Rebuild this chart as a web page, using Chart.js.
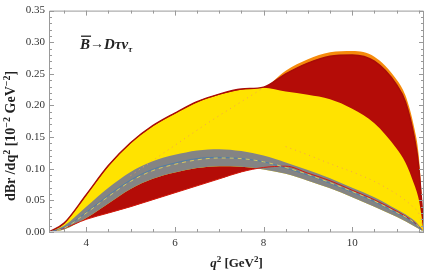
<!DOCTYPE html>
<html lang="en">
<head>
    <meta charset="UTF-8">
    <title>dBr/dq2 B -> D tau nu</title>
    <script src="https://cdnjs.cloudflare.com/ajax/libs/Chart.js/4.4.1/chart.umd.min.js"></script>
    <style>
        html, body { margin: 0; padding: 0; background: #fff; }
        #wrap { width: 425px; height: 272px; }
    </style>
</head>
<body>
<div id="wrap"><canvas id="dbr-chart" width="425" height="272"></canvas></div>

<script>
    // q^2 grid (GeV^2)
    const q2 = [3.16, 3.5, 4, 4.5, 5, 5.5, 6, 6.5, 7, 7.5, 8, 8.5, 9, 9.5, 10, 10.5, 11, 11.2, 11.4, 11.5, 11.62];

    // bands (10^-2 GeV^-2)
    const redLo    = [0, 0.006, 0.02, 0.03, 0.04, 0.051, 0.062, 0.073, 0.084, 0.095, 0.102, 0.104, 0.093, 0.081, 0.066, 0.051, 0.033, 0.025, 0.015, 0.009, 0];
    const redHi    = [0, 0.014, 0.059, 0.105, 0.141, 0.168, 0.188, 0.206, 0.218, 0.226, 0.229, 0.25, 0.267, 0.278, 0.28, 0.27, 0.233, 0.206, 0.15, 0.104, 0];
    const orangeHi = [0, 0.014, 0.059, 0.105, 0.141, 0.168, 0.188, 0.206, 0.218, 0.226, 0.229, 0.255, 0.273, 0.284, 0.286, 0.277, 0.241, 0.216, 0.165, 0.122, 0];
    const yellowHi = [0, 0.013, 0.058, 0.104, 0.14, 0.167, 0.187, 0.205, 0.217, 0.225, 0.228, 0.222, 0.217, 0.21, 0.195, 0.172, 0.132, 0.11, 0.075, 0.052, 0];
    const grayHi   = [0, 0.01, 0.04, 0.07, 0.095, 0.112, 0.122, 0.129, 0.131, 0.128, 0.121, 0.11, 0.098, 0.085, 0.07, 0.055, 0.036, 0.028, 0.018, 0.011, 0];
    const grayLo   = [0, 0.004, 0.022, 0.045, 0.068, 0.084, 0.094, 0.101, 0.104, 0.103, 0.099, 0.092, 0.081, 0.069, 0.055, 0.04, 0.024, 0.017, 0.009, 0.005, 0];

    // central lines
    const blueLine   = [0, 0.007, 0.031, 0.058, 0.082, 0.099, 0.109, 0.116, 0.118, 0.116, 0.111, 0.101, 0.09, 0.077, 0.063, 0.048, 0.03, 0.023, 0.014, 0.008, 0];
    const dashedLine = [0, 0.006, 0.03, 0.056, 0.08, 0.097, 0.107, 0.114, 0.117, 0.116, 0.111, 0.102, 0.091, 0.078, 0.064, 0.049, 0.031, 0.024, 0.015, 0.009, 0];
    const dottedA    = [null, null, null, null, 0.089, 0.113, 0.137, 0.161, 0.184, 0.206, 0.228, null, null, null, null, null, null, null, null, null, null];
    const dottedB    = [null, null, null, null, null, null, null, null, null, null, null, 0.135, 0.122, 0.108, 0.095, 0.08, 0.06, 0.05, 0.038, 0.03, 0];

    // axis ticks
    const xTicks = [4, 6, 8, 10];
    const yTicks = [0, 0.05, 0.1, 0.15, 0.2, 0.25, 0.3, 0.35];

    const pts = arr => q2.map((x, i) => ({x: x, y: arr[i]}));

    const SERIF = "'Liberation Serif', 'DejaVu Serif', serif";

    function band(arr, color, target, order) {
        return {
            data: pts(arr), borderWidth: 0, pointRadius: 0, order: order,
            cubicInterpolationMode: 'monotone',
            backgroundColor: color,
            fill: target === null ? false : {target: target, above: color, below: color}
        };
    }
    function line(arr, color, width, dash, order) {
        return {
            data: pts(arr), borderColor: color, borderWidth: width, borderDash: dash,
            pointRadius: 0, fill: false, order: order, spanGaps: false,
            cubicInterpolationMode: 'monotone'
        };
    }

    const datasets = [
        band(redLo, 'rgba(0,0,0,0)', null, 100),      // 0 base
        band(orangeHi, '#f68b0c', 0, 90),             // 1
        band(redHi, '#b40c07', 0, 80),                // 2
        band(grayLo, 'rgba(0,0,0,0)', null, 75),      // 3 base
        band(yellowHi, '#ffe300', 3, 70),             // 4
        band(grayHi, '#848484', 3, 60),               // 5
        line(redLo, '#d01a10', 1, [], 50),
        line(redHi, '#a80c08', 1.5, [], 49),
        line(dottedA, '#f5a050', 1, [1, 4], 40),
        line(dottedB, '#f5a050', 1, [1, 4], 39),
        line(blueLine, '#4f7fa8', 1, [], 31),
        line(dashedLine, '#d8c860', 1, [4, 4], 30)
    ];

    // Mathematica-like frame with inward ticks, titles and label
    const framePlugin = {
        id: 'frame',
        afterDatasetsDraw(chart) {
            const {ctx, chartArea: a, scales: {x, y}} = chart;
            ctx.save();
            // bottom axis line
            ctx.strokeStyle = '#cccccc';
            ctx.lineWidth = 2;
            ctx.beginPath();
            ctx.moveTo(a.left, a.bottom); ctx.lineTo(a.right, a.bottom);
            ctx.stroke();
            ctx.strokeStyle = '#999';
            ctx.lineWidth = 1;
            ctx.beginPath();
            ctx.moveTo(a.left + 0.5, a.bottom); ctx.lineTo(a.left + 0.5, a.top + 0.5);
            ctx.lineTo(a.right - 0.5, a.top + 0.5); ctx.lineTo(a.right - 0.5, a.bottom);
            ctx.stroke();

            ctx.beginPath();
            for (let i = 7; i <= 23; i++) {
                const v = i / 2;
                const px = Math.round(x.getPixelForValue(v)) + 0.5;
                const len = (i % 4 === 0) ? 5 : 3;
                ctx.moveTo(px, a.bottom); ctx.lineTo(px, a.bottom - len);
                ctx.moveTo(px, a.top); ctx.lineTo(px, a.top + len);
            }
            for (let i = 0; i <= 35; i++) {
                const py = Math.round(y.getPixelForValue(i / 100)) + 0.5;
                const len = (i % 5 === 0) ? 5 : 3;
                ctx.moveTo(a.left, py); ctx.lineTo(a.left + len, py);
                ctx.moveTo(a.right, py); ctx.lineTo(a.right - len, py);
            }
            ctx.stroke();

            // text runs: [text, font, raise]
            function runs(parts, startX, baseY) {
                let cx = startX;
                parts.forEach(p => {
                    ctx.font = p[1];
                    ctx.fillText(p[0], cx, baseY - p[2]);
                    cx += ctx.measureText(p[0]).width;
                });
            }
            function width(parts) {
                let w = 0;
                parts.forEach(p => { ctx.font = p[1]; w += ctx.measureText(p[0]).width; });
                return w;
            }
            ctx.fillStyle = '#222';
            ctx.textBaseline = 'alphabetic';
            ctx.textAlign = 'left';

            const b13 = 'bold 13px ' + SERIF, b9 = 'bold 9px ' + SERIF;
            const b14 = 'bold 14px ' + SERIF, b10 = 'bold 10px ' + SERIF;
            // x title
            const xt = [['q', 'italic bold 13px ' + SERIF, 0], ['2', b9, 5], [' [GeV', b13, 0], ['2', b9, 5], [']', b13, 0]];
            runs(xt, (a.left + a.right) / 2 - width(xt) / 2, 267);

            // y title
            const yt = [['dBr /dq', b14, 0], ['2', b10, 5], [' [10', b14, 0], ['\u22122', b10, 5],
                        [' GeV', b14, 0], ['\u22122', b10, 5], [']', b14, 0]];
            ctx.save();
            ctx.translate(15, 136);
            ctx.rotate(-Math.PI / 2);
            runs(yt, -width(yt) / 2, 0);
            ctx.restore();

            // process label
            const lx = x.getPixelForValue(3.86), ly = y.getPixelForValue(0.29);
            const bi = 'italic bold 15px ' + SERIF;
            ctx.font = bi;
            const bw = ctx.measureText('B').width;
            ctx.fillRect(lx + 1, ly - 13, bw, 1.3);
            runs([['B', bi, 0], ['\u2192', 'bold 14px ' + SERIF, 1], ['D', bi, 0], ['\u03c4', bi, 0],
                  ['\u03bd', bi, 0], ['\u03c4', 'italic bold 9px ' + SERIF, -3]], lx, ly);
            ctx.restore();
        }
    };

    new Chart('dbr-chart', {
        type: 'line',
        data: {datasets: datasets},
        options: {
            responsive: false,
            animation: false,
            layout: {padding: {top: 6, right: 1, left: 0, bottom: 0}},
            plugins: {legend: {display: false}, tooltip: {enabled: false}},
            scales: {
                x: {
                    type: 'linear', min: 3.16, max: 11.62,
                    afterBuildTicks: s => { s.ticks = xTicks.map(v => ({value: v})); },
                    afterFit: s => { s.height = 40; },
                    grid: {display: false, drawTicks: false},
                    border: {display: false},
                    ticks: {padding: 5, color: '#333', font: {family: SERIF, size: 11}, maxRotation: 0}
                },
                y: {
                    type: 'linear', min: 0, max: 0.35,
                    afterBuildTicks: s => { s.ticks = yTicks.map(v => ({value: v})); },
                    afterFit: s => { s.width = 49; },
                    grid: {display: false, drawTicks: false},
                    border: {display: false},
                    ticks: {padding: 4, color: '#333', font: {family: SERIF, size: 11},
                            callback: v => v.toFixed(2)}
                }
            }
        },
        plugins: [framePlugin]
    });
</script>
</body>
</html>
